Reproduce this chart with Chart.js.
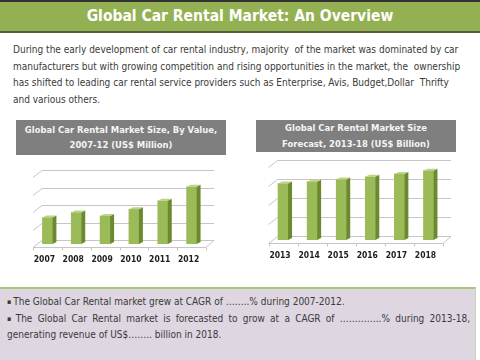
<!DOCTYPE html>
<html>
<head>
<meta charset="utf-8">
<script src="https://cdn.jsdelivr.net/npm/chart.js@4.4.0/dist/chart.umd.min.js"></script>
<style>
  html, body { margin: 0; padding: 0; }
  body {
    width: 480px; height: 360px; overflow: hidden; position: relative; background: #fff;
    font-family: "DejaVu Sans Condensed", "DejaVu Sans", sans-serif; color: #3a3a3a;
  }
  #header {
    position: absolute; left: 0; top: 0; width: 480px; height: 29px;
    background: #93b152; border-top: 2px solid #333; border-bottom: 2px solid #55603f;
    color: #fff; font-weight: bold; font-size: 15.5px; line-height: 29px; text-align: center;
  }
  #intro { position: absolute; left: 13px; top: 42px; font-size: 10px; line-height: 16.7px; white-space: nowrap; }
  .banner {
    position: absolute; background: #7f7f7f; color: #f4f4f4; font-weight: bold;
    font-size: 9.4px; text-align: center; white-space: nowrap;
  }
  #banner1 { left: 16px; top: 120px; width: 210px; height: 35px; line-height: 15px; padding-top: 2px; box-sizing: border-box; }
  #banner2 { left: 256px; top: 120px; width: 200px; height: 32px; line-height: 16px; box-sizing: border-box; }
  .chart { position: absolute; width: 240px; height: 110px; }
  #wrap1 { left: 0; top: 160px; }
  #wrap2 { left: 240px; top: 150px; }
  #notes {
    position: absolute; left: 0; top: 287px; width: 476px; height: 73px; box-sizing: border-box;
    background: #ded6e1; border-top: 2px solid #a9c97a; border-right: 1px solid #c9d6b4;
    font-size: 10px; line-height: 16.5px; padding: 5px 5px 0 7px;
  }
  #notes p { margin: 0; }
  #notes .b { font-size: 7px; vertical-align: 1px; margin-right: 2px; }
  #notes .just { text-align: justify; text-align-last: left; }
</style>
</head>
<body>
<div id="header">Global Car Rental Market: An Overview</div>
<div id="intro">During the early development of car rental industry, majority&nbsp; of the market was dominated by car<br>manufacturers but with growing competition and rising opportunities in the market, the&nbsp; ownership<br>has shifted to leading car rental service providers such as Enterprise, Avis, Budget,Dollar&nbsp; Thrifty<br>and various others.</div>

<div class="banner" id="banner1">Global Car Rental Market Size, By Value,<br>2007-12 (US$ Million)</div>
<div class="banner" id="banner2">Global Car Rental Market Size<br>Forecast, 2013-18 (US$ Billion)</div>

<div class="chart" id="wrap1"><canvas id="chart1" width="240" height="110"></canvas></div>
<div class="chart" id="wrap2"><canvas id="chart2" width="240" height="110"></canvas></div>

<div id="notes">
  <p><span class="b">▪</span>The Global Car Rental market grew at CAGR of ……..% during 2007-2012.</p>
  <p class="just"><span class="b">▪</span>The Global Car Rental market is forecasted to grow at a CAGR of …………..% during 2013-18, generating revenue of US$…….. billion in 2018.</p>
</div>

<script>
// values, in gridline steps (the slide prints no axis numbers)
const pastYears = ['2007', '2008', '2009', '2010', '2011', '2012'];
const pastValues = [1.51, 1.8, 1.6, 1.98, 2.47, 3.27];
const forecastYears = ['2013', '2014', '2015', '2016', '2017', '2018'];
const forecastValues = [2.97, 3.07, 3.19, 3.33, 3.47, 3.65];
const gridSteps = [0, 1, 2, 3, 4];

const FRONT = '#9bbb59';
const SIDE = '#6b8a2e';
const TOP = '#bcd486';
const GRID = '#c6c6c6';

// depth of the fake 3D box
const DX = 9, DY = 7;

const box3d = {
  id: 'box3d',
  beforeDatasetsDraw(chart) {
    const { ctx, chartArea: a, scales: { x, y } } = chart;
    ctx.save();
    ctx.strokeStyle = GRID;
    ctx.lineWidth = 1;
    gridSteps.forEach(v => {
      const py = Math.round(y.getPixelForValue(v)) + 0.5;
      ctx.beginPath();
      ctx.moveTo(a.left, py + 3);
      ctx.lineTo(a.left + DX, py + 3 - DY);
      ctx.lineTo(a.right + DX - 1, py + 3 - DY);
      ctx.stroke();
    });
    // floor front edge, right side and little category ticks
    const fy = Math.round(y.getPixelForValue(0)) + 3.5;
    ctx.beginPath();
    ctx.moveTo(a.left, fy);
    ctx.lineTo(a.right, fy);
    ctx.lineTo(a.right + DX - 1, fy - DY);
    ctx.stroke();
    const n = x.ticks.length;
    const step = (a.right - a.left) / n;
    for (let i = 0; i <= n; i++) {
      const px = Math.round(a.left + i * step) + 0.5;
      ctx.beginPath();
      ctx.moveTo(px, fy);
      ctx.lineTo(px, fy + 3);
      ctx.stroke();
    }
    ctx.restore();
  },
  afterDatasetsDraw(chart) {
    const { ctx } = chart;
    const meta = chart.getDatasetMeta(0);
    ctx.save();
    meta.data.forEach(bar => {
      const { x, y, base, width } = bar.getProps(['x', 'y', 'base', 'width'], true);
      const l = x - width / 2, r = x + width / 2;
      ctx.fillStyle = SIDE;
      ctx.beginPath();
      ctx.moveTo(r, y);
      ctx.lineTo(r + 4, y - 2);
      ctx.lineTo(r + 4, base - 2);
      ctx.lineTo(r, base);
      ctx.closePath();
      ctx.fill();
      ctx.fillStyle = TOP;
      ctx.beginPath();
      ctx.moveTo(l, y);
      ctx.lineTo(l + 4, y - 2);
      ctx.lineTo(r + 4, y - 2);
      ctx.lineTo(r, y);
      ctx.closePath();
      ctx.fill();
    });
    ctx.restore();
  }
};

function makeChart(id, labels, values, pad, axisHeight, tickPad) {
  return new Chart(document.getElementById(id), {
    type: 'bar',
    data: {
      labels: labels,
      datasets: [{ data: values, backgroundColor: FRONT, barThickness: 10 }]
    },
    options: {
      responsive: false,
      animation: false,
      layout: { padding: pad },
      plugins: { legend: { display: false }, tooltip: { enabled: false } },
      scales: {
        x: {
          grid: { display: false, drawTicks: false },
          border: { display: false },
          ticks: {
            padding: tickPad, labelOffset: -3, color: '#1e1e1e',
            font: { family: 'DejaVu Sans Condensed', size: 8.5, weight: 'bold' }
          },
          afterFit: s => { s.height = axisHeight; }
        },
        y: { display: false, min: 0, max: 4 }
      }
    },
    plugins: [box3d]
  });
}

makeChart('chart1', pastYears, pastValues, { left: 33, right: 34, top: 14, bottom: 0 }, 26, 10.5);
makeChart('chart2', forecastYears, forecastValues, { left: 28.5, right: 37, top: 14, bottom: 0 }, 20, 11);
</script>
</body>
</html>
